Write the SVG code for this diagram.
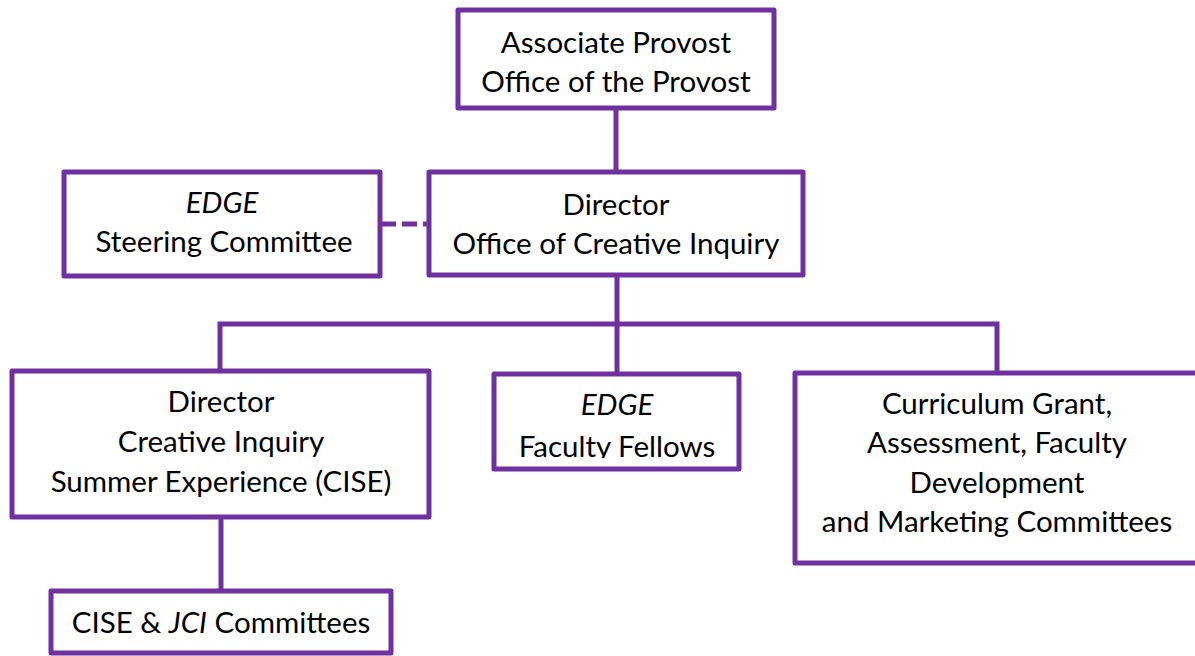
<svg xmlns="http://www.w3.org/2000/svg" width="1195" height="656" viewBox="0 0 1195 656">
<style>
.box{fill:#fff;stroke:#7030A0;stroke-width:5;stroke-linejoin:round}
.ln{fill:none;stroke:#7030A0;stroke-width:5}
.t{font-family:Lato,"Liberation Sans",sans-serif;font-size:29.5px;fill:#000;text-anchor:middle}
.i{font-style:italic}
</style>
<defs>
<clipPath id="ffclip"><rect x="494" y="374" width="245" height="84"/></clipPath>
</defs>
<rect width="1195" height="656" fill="#fff"/>
<g id="connectors">
<line class="ln" x1="616" y1="108" x2="616" y2="172"/>
<line class="ln" x1="381" y1="224" x2="429" y2="224" stroke-dasharray="15 6"/>
<line class="ln" x1="617" y1="275" x2="617" y2="374"/>
<polyline class="ln" points="220,371 220,324 997,324 997,373"/>
<line class="ln" x1="221" y1="517" x2="221" y2="591"/>
</g>
<g id="associate-provost">
<rect class="box" x="458" y="10" width="316" height="98"/>
<text class="t" x="616" y="53">Associate Provost</text>
<text class="t" x="616" y="92">Office of the Provost</text>
</g>
<g id="edge-steering">
<rect class="box" x="64" y="172" width="316" height="104"/>
<text class="t i" x="222" y="213">EDGE</text>
<text class="t" x="224" y="252">Steering Committee</text>
</g>
<g id="director-oci">
<rect class="box" x="429" y="172" width="374" height="103"/>
<text class="t" x="616" y="215">Director</text>
<text class="t" x="616" y="254">Office of Creative Inquiry</text>
</g>
<g id="director-cise">
<rect class="box" x="12" y="371" width="417" height="146"/>
<text class="t" x="221" y="412">Director</text>
<text class="t" x="221" y="452">Creative Inquiry</text>
<text class="t" x="221" y="492">Summer Experience (CISE)</text>
</g>
<g id="edge-fellows">
<rect class="box" x="494" y="374" width="245" height="95"/>
<text class="t i" x="617" y="415">EDGE</text>
<text class="t" x="617" y="457" clip-path="url(#ffclip)">Faculty Fellows</text>
</g>
<g id="committees">
<rect class="box" x="795" y="373" width="420" height="190"/>
<text class="t" x="997" y="414">Curriculum Grant,</text>
<text class="t" x="997" y="453">Assessment, Faculty</text>
<text class="t" x="997" y="493">Development</text>
<text class="t" x="997" y="532">and Marketing Committees</text>
</g>
<g id="cise-jci">
<rect class="box" x="51" y="591" width="340" height="62"/>
<text class="t" x="221" y="633">CISE &amp; <tspan class="i">JCI</tspan> Committees</text>
</g>
</svg>
